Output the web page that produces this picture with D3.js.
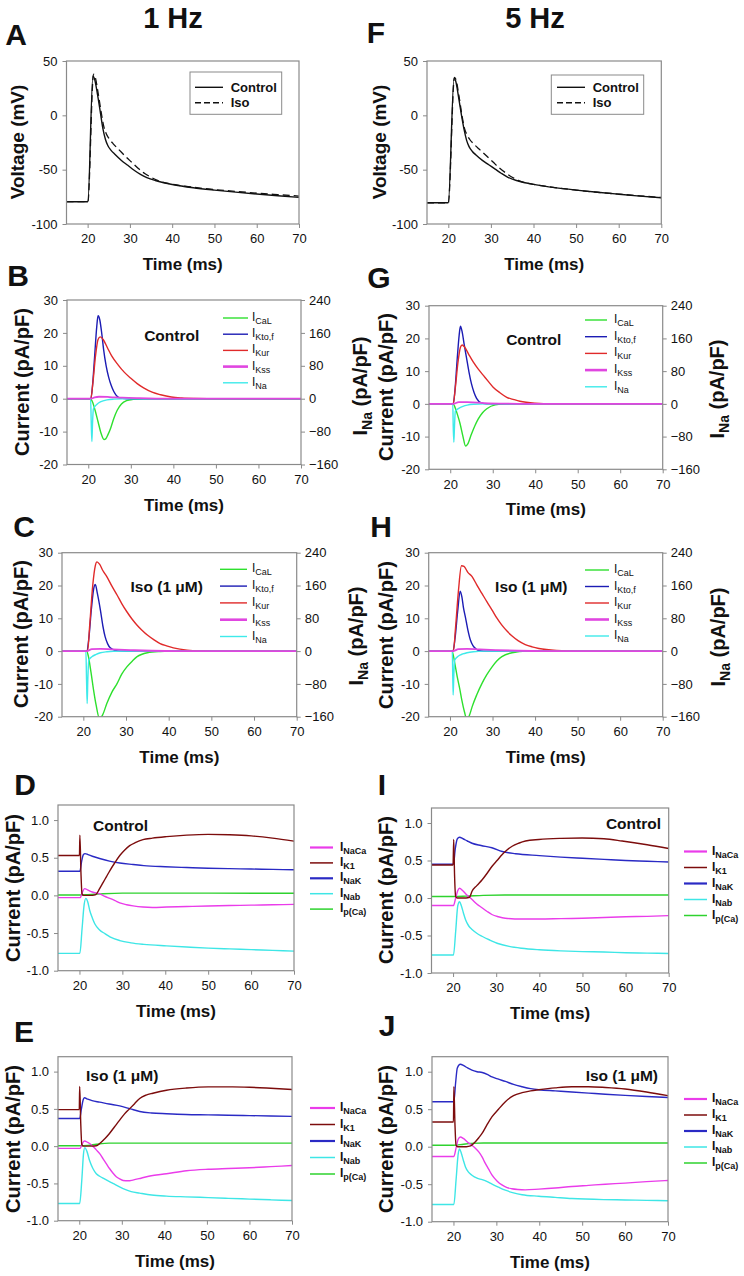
<!DOCTYPE html>
<html><head><meta charset="utf-8">
<script src="https://cdn.jsdelivr.net/npm/d3@7"></script>
<style>body{margin:0;background:#fff;} text{font-family:"Liberation Sans",Arial,sans-serif;fill:#111;}</style>
</head><body><svg id="fig" width="744" height="1276"></svg>
<script>
// ---------------- DATA ----------------
const timeTicks = [20,30,40,50,60,70];
const voltTicks = [-100,-50,0,50];
const curTicks = [-20,-10,0,10,20,30];
const naTicks = [-160,-80,0,80,160,240];
const bgTicks = [-1.0,-0.5,0.0,0.5,1.0];
const columnTitles = ["1 Hz","5 Hz"];
const fastNames = [["I","CaL"],["I","Kto,f"],["I","Kur"],["I","Kss"],["I","Na"]];
const bgNames = [["I","NaCa"],["I","K1"],["I","NaK"],["I","Nab"],["I","p(Ca)"]];
const vNames = ["Control","Iso"];

// Panel A (1 Hz voltage, mV)
const A_control = [[15,-79.5],[20.05,-79.5],[21.25,36],[21.6,34],[22.3,20],[23,3],[23.6,-12],[24.2,-22],[24.8,-28],[25.5,-32],[26.5,-36],[28,-41.5],[29.5,-46],[31,-50.5],[32.5,-54.3],[34,-57.3],[36,-60],[38,-62],[40,-63.6],[45,-66.6],[50,-68.8],[55,-70.7],[60,-72.4],[65,-74],[70,-75.5]];
const A_iso = [[15,-79.5],[20.05,-79.5],[21.4,38],[21.8,35],[22.5,20],[23.2,3],[23.8,-10],[24.4,-17],[25,-21],[26,-26],[27.5,-32],[29,-38],[30.5,-43.5],[32,-49],[33.5,-53.5],[35,-57],[37,-60.5],[40,-63.3],[45,-66.2],[50,-68.3],[55,-70],[60,-71.6],[65,-73],[70,-74.3]];
// Panel F (5 Hz voltage, mV)
const F_control = [[15,-80.5],[20.0,-80.5],[21.35,34],[21.7,32],[22.4,17],[23.1,0],[23.7,-13],[24.3,-23],[24.9,-29],[25.6,-33],[26.5,-36.5],[28,-41.5],[29.5,-45.5],[31,-49.5],[32.5,-53.5],[34,-57],[36,-60],[38,-62],[40,-63.5],[45,-66.5],[50,-68.8],[55,-70.8],[60,-72.6],[65,-74.3],[70,-75.8]];
const F_iso = [[15,-80.5],[20.0,-80.5],[21.45,35],[21.8,33],[22.5,18],[23.2,0],[23.8,-12],[24.4,-18],[25,-22],[26,-26.5],[27.5,-32],[29,-37.5],[30.5,-43],[32,-48.5],[33.5,-53],[35,-57],[36.5,-60],[38,-62],[40,-63.5],[45,-66.5],[50,-68.8],[55,-70.8],[60,-72.5],[65,-74.1],[70,-75.6]];

// Panel B (1 Hz control, pA/pF; INa on right axis)
const B_ICaL = [[15,0],[20.5,0],[21,-1],[21.6,-3.5],[22.3,-7],[23,-10.5],[23.7,-12.4],[24.1,-12.2],[24.6,-11],[25.3,-8.8],[26,-6],[26.8,-3.5],[27.8,-1.6],[29,-0.6],[30.5,-0.2],[33,0],[70,0]];
const B_IKto = [[15,0],[20.6,0],[21,4],[21.5,13],[22,22],[22.3,25.2],[22.7,24],[23.2,19.5],[23.6,15],[24.2,10],[24.8,6.5],[25.4,4],[26,2.2],[27.1,0.4],[28,0.1],[29,0],[70,0]];
const B_IKur = [[15,0],[20.6,0],[21.1,5],[21.7,13],[22.3,18],[22.8,18.8],[23.5,18],[24.5,15.5],[25.5,13],[27,10.3],[28.5,8],[30,6.2],[31.5,4.6],[33,3.3],[35,2],[37,1.2],[39.5,0.5],[42,0.2],[45,0.05],[48,0],[70,0]];
const B_IKss = [[15,0],[20.6,0],[21.5,0.4],[22.5,0.6],[25,0.5],[28,0.3],[32,0.15],[36,0.05],[40,0],[70,0]];
const B_INa = [[15,0],[20.55,0],[20.7,-60],[20.85,-104],[21.0,-60],[21.2,-25],[22,-14],[23,-7],[24.4,-3],[26,-1],[28,0],[70,0]];
// Panel C (1 Hz Iso)
const C_ICaL = [[15,0],[20.8,0],[21.2,-1.7],[21.8,-6.5],[22.4,-11.9],[23,-16.5],[23.8,-20.6],[24.5,-19.5],[25.5,-16],[26.7,-12.5],[27.9,-9.9],[29,-7],[30.2,-4.8],[31.5,-3],[32.6,-1.7],[35,-0.5],[38,-0.1],[40,0],[70,0]];
const C_IKto = [[15,0],[20.8,0],[21.3,4],[21.9,13],[22.5,19.5],[22.8,20.3],[23.3,17.5],[24,12.5],[24.6,7.5],[25.1,4.4],[25.7,2.2],[26.3,1],[27.5,0.2],[28.5,0],[70,0]];
const C_IKur = [[15,0],[21,0],[21.5,8],[22.2,20],[22.8,26],[23.2,27.2],[23.8,26.5],[24.6,24.5],[25.5,22.7],[26.7,19.8],[27.9,17.1],[29,14.5],[30.2,12],[31.4,9.8],[32.6,7.9],[33.8,6.3],[35,4.9],[36.5,3.5],[38,2.3],[39.5,1.6],[41.1,1],[44.3,0.3],[48,0.05],[50,0],[70,0]];
const C_IKss = [[15,0],[20.8,0],[22,0.6],[24,0.7],[27,0.5],[31,0.3],[36,0.1],[42,0],[70,0]];
const C_INa = [[15,0],[20.6,0],[20.75,-70],[20.9,-128],[21.05,-70],[21.3,-22],[22,-14],[23,-8],[24,-4],[25.5,-1.5],[27,-0.4],[30,0],[70,0]];
// Panel G (5 Hz control)
const G_ICaL = [[15,0],[20.7,0],[21.1,-1],[21.7,-3.3],[22.3,-6],[23,-10],[23.6,-12.9],[24.1,-12.3],[25,-9.2],[25.8,-6.7],[26.6,-4.6],[27.6,-2.7],[28.6,-1.5],[30.6,-0.3],[33,0],[70,0]];
const G_IKto = [[15,0],[20.7,0],[21.1,4],[21.6,13],[22.1,21],[22.4,23.7],[22.8,22],[23.3,18],[23.8,14.3],[24.4,9.8],[25,6.1],[25.6,3.5],[26.2,1.7],[27.3,0.3],[28.5,0],[70,0]];
const G_IKur = [[15,0],[20.7,0],[21.2,5],[21.8,12.5],[22.4,17.3],[22.8,18],[23.4,17.3],[24.4,15],[25.4,12.8],[26.6,10.6],[27.8,8.7],[29,6.8],[30.1,5.1],[31.7,3.4],[33.3,2],[35,1.3],[36.4,0.8],[40,0.2],[44,0],[70,0]];
const G_IKss = [[15,0],[20.7,0],[22,0.5],[24,0.5],[28,0.25],[33,0.08],[38,0],[70,0]];
const G_INa = [[15,0],[20.6,0],[20.7,-55],[20.85,-94],[21.0,-55],[21.2,-18],[22,-11],[23,-6],[24,-3],[25.5,-1],[28,0],[70,0]];
// Panel H (5 Hz Iso)
const H_ICaL = [[15,0],[20.5,0],[21.1,-3.5],[21.7,-7.8],[22.3,-11.5],[22.8,-15],[23.4,-18.5],[24,-21],[24.6,-19.5],[25.2,-17],[26.3,-13.3],[27.5,-9.9],[28.7,-7.1],[29.9,-4.8],[31,-3],[32.2,-1.7],[34.6,-0.5],[38,0],[70,0]];
const H_IKto = [[15,0],[20.7,0],[21.2,4],[21.8,12],[22.4,18.3],[22.8,16.5],[23.2,13],[23.6,10.5],[24.2,6.5],[24.8,3.4],[25.4,1.7],[26,0.8],[27,0.1],[28,0],[70,0]];
const H_IKur = [[15,0],[20.8,0],[21.3,7],[22,18.5],[22.7,26],[23.3,25.8],[24.2,24],[25.2,22.7],[26.3,20.2],[27.5,17.6],[28.7,15],[29.9,12.5],[31,10.1],[32.2,7.9],[33.4,6.1],[34.6,4.6],[36,3.2],[37.7,2],[39.3,1.3],[40.9,0.8],[45,0.2],[50,0],[70,0]];
const H_IKss = [[15,0],[20.7,0],[22,0.6],[24,0.7],[27,0.5],[31,0.3],[36,0.1],[42,0],[70,0]];
const H_INa = [[15,0],[20.55,0],[20.65,-60],[20.75,-107],[20.9,-60],[21.1,-22],[22,-12],[23,-7],[24,-4],[25.5,-1.5],[28,0],[70,0]];

// Panel D (1 Hz control, background currents)
const D_INaCa = [[15,-0.03],[20.2,-0.03],[20.6,0.03],[21.2,0.09],[22,0.07],[23,0.045],[24.7,0.02],[26,-0.015],[27.1,-0.04],[28.3,-0.07],[29.4,-0.1],[31,-0.125],[32.5,-0.14],[34.8,-0.155],[37,-0.16],[40.3,-0.155],[45,-0.148],[50,-0.14],[55,-0.135],[60,-0.13],[65,-0.125],[70,-0.12]];
const D_IK1 = [[15,0.53],[20.0,0.53],[20.1,0.8],[20.35,0.3],[20.6,0.02],[21,0],[22,0],[23,0],[23.8,0.01],[24.7,0.09],[25.5,0.17],[26.3,0.25],[27.1,0.33],[28.2,0.43],[29.4,0.53],[30.5,0.6],[31.7,0.66],[33,0.7],[34.8,0.74],[37,0.76],[40.3,0.78],[45,0.8],[50,0.81],[55,0.805],[60,0.79],[65,0.76],[70,0.72]];
const D_INaK = [[15,0.32],[20.1,0.32],[20.5,0.45],[20.9,0.54],[21.3,0.555],[22,0.54],[23,0.52],[24.7,0.49],[27,0.455],[29.4,0.43],[32.5,0.41],[35,0.395],[40,0.38],[45,0.37],[50,0.36],[55,0.355],[60,0.35],[65,0.345],[70,0.34]];
const D_INab = [[15,-0.77],[20.1,-0.77],[20.6,-0.45],[21.1,-0.12],[21.5,-0.04],[21.9,-0.08],[22.4,-0.2],[23,-0.3],[23.6,-0.38],[24.7,-0.46],[26,-0.51],[27.1,-0.55],[29.4,-0.6],[32,-0.63],[35,-0.65],[40.3,-0.67],[45,-0.685],[50,-0.7],[55,-0.71],[60,-0.72],[65,-0.73],[70,-0.74]];
const D_IpCa = [[15,0.005],[20,0.005],[22,0.01],[25,0.02],[30,0.03],[40,0.03],[50,0.03],[70,0.028]];
// Panel E (1 Hz Iso)
const E_INaCa = [[15,-0.03],[20.2,-0.03],[20.6,0.02],[21.2,0.07],[22,0.05],[23,0.01],[24,-0.05],[24.8,-0.1],[25.6,-0.17],[26.3,-0.23],[27.1,-0.3],[27.9,-0.36],[28.7,-0.41],[29.5,-0.44],[30.3,-0.46],[31.5,-0.465],[32.6,-0.455],[34.5,-0.43],[36.6,-0.40],[40.5,-0.37],[45.2,-0.33],[50.3,-0.31],[55,-0.3],[60,-0.29],[65,-0.275],[70,-0.26]];
const E_IK1 = [[15,0.49],[20.0,0.49],[20.1,0.8],[20.35,0.3],[20.6,0.02],[21,0],[23,0],[24,0.005],[24.8,0.035],[26,0.1],[27.1,0.17],[28.3,0.26],[29.5,0.35],[30.6,0.43],[31.8,0.5],[33,0.57],[34.2,0.64],[35.7,0.685],[37.3,0.71],[40.5,0.75],[45.2,0.78],[50.3,0.795],[56,0.795],[60,0.79],[64,0.78],[70,0.76]];
const E_INaK = [[15,0.37],[20.1,0.37],[20.5,0.5],[20.9,0.62],[21.2,0.65],[22,0.63],[23,0.61],[24.8,0.59],[27,0.565],[29.5,0.54],[32,0.5],[34.2,0.465],[37,0.445],[40.5,0.435],[45,0.425],[50.3,0.42],[55,0.415],[60,0.41],[65,0.405],[70,0.40]];
const E_INab = [[15,-0.77],[20.1,-0.77],[20.6,-0.45],[21.0,-0.1],[21.3,-0.02],[21.8,-0.07],[22.4,-0.19],[23.2,-0.3],[24,-0.37],[25,-0.41],[25.6,-0.43],[27.9,-0.5],[30.3,-0.57],[32.2,-0.61],[34.2,-0.63],[37,-0.655],[40.5,-0.67],[45,-0.68],[50.3,-0.69],[55,-0.7],[60,-0.71],[65,-0.72],[70,-0.73]];
const E_IpCa = [[15,0.005],[20,0.005],[22,0.01],[24,0.025],[27,0.04],[35,0.04],[50,0.04],[70,0.04]];
// Panel I (5 Hz control)
const I_INaCa = [[15,-0.1],[20.1,-0.1],[20.6,0.0],[21.1,0.1],[21.5,0.13],[22.2,0.1],[23.2,0.04],[24.4,-0.02],[25.5,-0.08],[26.7,-0.13],[27.9,-0.18],[29,-0.22],[30.5,-0.25],[32.1,-0.27],[35.9,-0.28],[40,-0.28],[45,-0.275],[50,-0.27],[55,-0.26],[60,-0.25],[65,-0.245],[70,-0.235]];
const I_IK1 = [[15,0.44],[20.0,0.44],[20.15,0.78],[20.35,0.3],[20.6,0.02],[21,0],[23,0],[23.8,0.01],[24.4,0.09],[25.5,0.165],[26.7,0.24],[27.9,0.33],[29,0.42],[30.2,0.5],[31.4,0.58],[32.5,0.64],[33.7,0.69],[35.2,0.73],[36.8,0.76],[39.9,0.78],[45,0.795],[49.9,0.8],[55,0.79],[59.2,0.76],[65,0.71],[70,0.66]];
const I_INaK = [[15,0.45],[20.1,0.45],[20.5,0.65],[21,0.79],[21.5,0.81],[22.3,0.79],[23.3,0.76],[24.4,0.73],[26.5,0.7],[29,0.67],[31.4,0.62],[34.5,0.59],[40,0.565],[45,0.545],[50,0.53],[55,0.515],[60,0.5],[65,0.49],[70,0.48]];
const I_INab = [[15,-0.76],[20.1,-0.76],[20.6,-0.45],[21.1,-0.1],[21.5,-0.05],[21.9,-0.1],[22.4,-0.2],[22.9,-0.29],[23.6,-0.37],[24.4,-0.42],[25.5,-0.47],[26.7,-0.51],[28.5,-0.56],[30.6,-0.61],[33,-0.645],[35.9,-0.67],[40,-0.69],[45,-0.705],[50,-0.715],[55,-0.72],[60,-0.73],[65,-0.735],[70,-0.74]];
const I_IpCa = [[15,0.02],[20,0.02],[23,0.025],[27,0.035],[32,0.04],[45,0.04],[70,0.04]];
// Panel J (5 Hz Iso)
const J_INaCa = [[15,-0.13],[20.1,-0.13],[20.6,-0.02],[21.1,0.1],[21.6,0.13],[22.3,0.11],[23.3,0.06],[24.3,0.02],[25.1,-0.02],[25.9,-0.07],[26.7,-0.14],[27.4,-0.22],[28.2,-0.3],[29,-0.38],[30.2,-0.46],[31.3,-0.51],[32.5,-0.545],[33.6,-0.56],[35,-0.57],[36.7,-0.575],[39.9,-0.565],[43.7,-0.55],[47.6,-0.53],[51.5,-0.515],[55.4,-0.5],[60,-0.485],[65,-0.465],[70,-0.45]];
const J_IK1 = [[15,0.33],[20.0,0.33],[20.1,0.8],[20.35,0.3],[20.6,0.02],[21,0],[23,0],[24,0.01],[25,0.06],[25.9,0.12],[26.7,0.18],[27.8,0.29],[29,0.4],[30.5,0.5],[32.1,0.6],[34,0.68],[36,0.72],[38,0.745],[39.9,0.76],[43.7,0.785],[47.6,0.8],[51.5,0.8],[55.4,0.79],[60,0.77],[65,0.73],[70,0.68]];
const J_INaK = [[15,0.6],[20.1,0.6],[20.5,0.85],[20.9,1.05],[21.6,1.1],[22.4,1.08],[23.3,1.05],[24.3,1.02],[25.5,1.0],[26.7,0.99],[28,0.96],[29,0.93],[30.5,0.9],[32.1,0.87],[34,0.83],[36,0.8],[38,0.775],[39.9,0.76],[43.7,0.745],[47.6,0.73],[51.5,0.715],[55.4,0.70],[60,0.685],[65,0.67],[70,0.655]];
const J_INab = [[15,-0.77],[20.1,-0.77],[20.6,-0.45],[21.1,-0.1],[21.4,-0.03],[21.8,-0.08],[22.3,-0.18],[22.8,-0.27],[23.5,-0.34],[24.3,-0.38],[25.5,-0.42],[26.7,-0.44],[28,-0.47],[29,-0.5],[30.5,-0.54],[32.1,-0.58],[34,-0.615],[36,-0.64],[39.9,-0.66],[43.7,-0.675],[47.6,-0.69],[55,-0.705],[60,-0.71],[65,-0.715],[70,-0.72]];
const J_IpCa = [[15,0.02],[20,0.02],[22,0.03],[24,0.045],[27,0.05],[40,0.05],[70,0.05]];

// ---------------- STYLE / LAYOUT ----------------
const FRAME = "#8a8a8a";
const fastColors = ["#2ee02e","#1c1cb4","#e02a2a","#e046e0","#3eeaea"];
const bgColors = ["#ea3cea","#7c0c0c","#2a2ac4","#3ee6e6","#2ed22e"];
const xDom = [15,70];

const svg = d3.select("#fig");
const lineGen = (x,y) => d3.line().x(d=>x(d[0])).y(d=>y(d[1])).curve(d3.curveMonotoneX);
let clipN = 0;

function styleAxis(g){
  g.select(".domain").remove();
  g.selectAll(".tick line").attr("stroke",FRAME);
  g.selectAll(".tick text").attr("font-size",13).attr("fill","#111")
   .style("font-family",'"Liberation Sans",Arial,sans-serif');
}

function frameAndAxes(p, yDom, yTicks, fmt, rightDom){
  const x = d3.scaleLinear(xDom,[p.L,p.R]);
  const y = d3.scaleLinear(yDom,[p.B,p.T]);
  const g = svg.append("g");
  g.append("g").attr("transform",`translate(0,${p.B})`)
    .call(d3.axisBottom(x).tickValues(timeTicks).tickSize(4).tickPadding(6).tickSizeOuter(0))
    .call(styleAxis);
  g.append("g").attr("transform",`translate(${p.L},0)`)
    .call(d3.axisLeft(y).tickValues(yTicks).tickFormat(fmt).tickSize(4).tickPadding(5).tickSizeOuter(0))
    .call(styleAxis);
  let yr = null;
  if(rightDom){
    yr = d3.scaleLinear(rightDom,[p.B,p.T]);
    g.append("g").attr("transform",`translate(${p.R},0)`)
      .call(d3.axisRight(yr).tickValues(naTicks).tickSize(4).tickPadding(4).tickSizeOuter(0))
      .call(styleAxis);
  }
  const id = "clip"+(clipN++);
  svg.append("clipPath").attr("id",id).append("rect")
    .attr("x",p.L).attr("y",p.T).attr("width",p.R-p.L).attr("height",p.B-p.T);
  const plot = svg.append("g").attr("clip-path",`url(#${id})`);
  svg.append("text").attr("x",(p.L+p.R)/2).attr("y",p.B+46).attr("text-anchor","middle")
    .attr("font-size",17).attr("font-weight","bold").text("Time (ms)");
  svg.append("text").attr("x",p.letter[0]).attr("y",p.letter[1]+11).attr("text-anchor","middle")
    .attr("font-size",30).attr("font-weight","bold").text(p.id);
  return {x,y,yr,plot,g};
}

function drawFrame(p){
  svg.append("rect").attr("x",p.L).attr("y",p.T).attr("width",p.R-p.L).attr("height",p.B-p.T)
    .attr("fill","none").attr("stroke",FRAME).attr("stroke-width",1.2);
}

function yTitle(cx,cy,size,parts){
  const t = svg.append("text").attr("transform",`translate(${cx},${cy}) rotate(-90)`)
    .attr("text-anchor","middle").attr("dy","0.36em").attr("font-size",size).attr("font-weight","bold");
  parts(t);
}

function subLabel(sel, x, y, main, sub, mainSize, subSize, bold){
  const t = sel.append("text").attr("x",x).attr("y",y).attr("font-size",mainSize)
    .attr("font-weight",bold?"bold":"normal");
  t.append("tspan").text(main);
  t.append("tspan").attr("dy",3).attr("font-size",subSize).text(sub);
}

// ---------- Voltage panels ----------
function voltagePanel(p){
  const {x,y,plot} = frameAndAxes(p,[-100,50],voltTicks,d=>String(d),null);
  const lg = lineGen(x,y);
  plot.append("path").datum(p.ctrl).attr("d",lg).attr("fill","none").attr("stroke","#111").attr("stroke-width",1.4);
  plot.append("path").datum(p.iso).attr("d",lg).attr("fill","none").attr("stroke","#111").attr("stroke-width",1.3).attr("stroke-dasharray","7,4");
  drawFrame(p);
  const L = p.legend;
  svg.append("rect").attr("x",L.x0).attr("y",L.y0).attr("width",L.x1-L.x0).attr("height",L.y1-L.y0)
    .attr("fill","#fff").attr("stroke",FRAME).attr("stroke-width",1);
  vNames.forEach((n,i)=>{
    svg.append("line").attr("x1",L.lx0).attr("x2",L.lx1).attr("y1",L.rows[i]).attr("y2",L.rows[i])
      .attr("stroke","#111").attr("stroke-width",1.4).attr("stroke-dasharray",i?"6,3":null);
    svg.append("text").attr("x",L.tx).attr("y",L.rows[i]+4.5).attr("font-size",13).attr("font-weight","bold").text(n);
  });
  yTitle(p.ylab[0],p.ylab[1],19,t=>t.text("Voltage (mV)"));
}

// ---------- Fast current panels ----------
function fastPanel(p){
  const {x,y,yr,plot} = frameAndAxes(p,[-20,30],curTicks,d=>String(d),[-160,240]);
  const lg = lineGen(x,y), lr = lineGen(x,yr);
  const s = p.series; // [ICaL, IKto, IKur, IKss, INa]
  [0,1,2,4,3].forEach(i=>{
    plot.append("path").datum(s[i]).attr("d", i===4?lr:lg).attr("fill","none")
      .attr("stroke",fastColors[i]).attr("stroke-width", i===3?1.8:1.4);
  });
  drawFrame(p);
  const L = p.legend;
  fastNames.forEach((n,i)=>{
    const yy = L.y0 + i*L.dy;
    svg.append("line").attr("x1",L.lx0).attr("x2",L.lx1).attr("y1",yy).attr("y2",yy)
      .attr("stroke",fastColors[i]).attr("stroke-width", i===3?2.6:1.4);
    subLabel(svg,L.tx,yy+3,n[0],n[1],12,9,false);
  });
  svg.append("text").attr("x",p.note.x).attr("y",p.note.y+5.5).attr("text-anchor",p.note.anchor)
    .attr("font-size",15.5).attr("font-weight","bold").text(p.note.text);
  yTitle(p.ylab[0],p.ylab[1],20,t=>t.text("Current (pA/pF)"));
  yTitle(p.rlab[0],p.rlab[1],20,t=>{
    t.append("tspan").text("I");
    t.append("tspan").attr("dy",5).attr("font-size",14).text("Na");
    t.append("tspan").attr("dy",-5).text(" (pA/pF)");
  });
}

// ---------- Background current panels ----------
function bgPanel(p){
  const {x,y,plot} = frameAndAxes(p,[-1,1.2],bgTicks,d=>d.toFixed(1),null);
  const lg = lineGen(x,y);
  const s = p.series; // [INaCa, IK1, INaK, INab, IpCa]
  [4,3,2,0,1].forEach(i=>{
    plot.append("path").datum(s[i]).attr("d",lg).attr("fill","none")
      .attr("stroke",bgColors[i]).attr("stroke-width",1.4);
  });
  drawFrame(p);
  const L = p.legend;
  bgNames.forEach((n,i)=>{
    const yy = L.y0 + i*L.dy;
    svg.append("line").attr("x1",L.lx0).attr("x2",L.lx1).attr("y1",yy).attr("y2",yy)
      .attr("stroke",bgColors[i]).attr("stroke-width",(i===0||i===2)?2.2:1.5);
    subLabel(svg,L.tx,yy+3,n[0],n[1],12,9,true);
  });
  svg.append("text").attr("x",p.note.x).attr("y",p.note.y+5.5).attr("text-anchor",p.note.anchor)
    .attr("font-size",15.5).attr("font-weight","bold").text(p.note.text);
  yTitle(p.ylab[0],p.ylab[1],20,t=>t.text("Current (pA/pF)"));
}

svg.append("text").attr("x",173).attr("y",28).attr("text-anchor","middle").attr("font-size",29).attr("font-weight","bold").text(columnTitles[0]);
svg.append("text").attr("x",535).attr("y",28).attr("text-anchor","middle").attr("font-size",29).attr("font-weight","bold").text(columnTitles[1]);

voltagePanel({id:"A",L:66.5,T:61,R:299,B:224,ctrl:A_control,iso:A_iso,
  legend:{x0:190,y0:72,x1:281.7,y1:114.3,lx0:195,lx1:223,tx:230.7,rows:[87.3,102.7]},ylab:[17,142],letter:[16,34]});
voltagePanel({id:"F",L:427,T:61,R:661.3,B:224,ctrl:F_control,iso:F_iso,
  legend:{x0:551.3,y0:75,x1:643.7,y1:114.3,lx0:557,lx1:585,tx:592.7,rows:[87.3,102.7]},ylab:[379,142],letter:[376,32]});

fastPanel({id:"B",L:67,T:300,R:301,B:464.5,series:[B_ICaL,B_IKto,B_IKur,B_IKss,B_INa],
  legend:{lx0:223,lx1:248,tx:252,y0:318,dy:16.2},note:{text:"Control",x:171.7,y:335,anchor:"middle"},
  ylab:[22,382],rlab:[360,386],letter:[18,275]});
fastPanel({id:"C",L:62,T:552.7,R:296.7,B:716.7,series:[C_ICaL,C_IKto,C_IKur,C_IKss,C_INa],
  legend:{lx0:220,lx1:247,tx:252,y0:569.3,dy:16.8},note:{text:"Iso (1 \u03bcM)",x:166.7,y:586,anchor:"middle"},
  ylab:[21,634],rlab:[356,636],letter:[24,526]});
fastPanel({id:"G",L:429,T:305.7,R:662.7,B:469.3,series:[G_ICaL,G_IKto,G_IKur,G_IKss,G_INa],
  legend:{lx0:585,lx1:607,tx:614,y0:320,dy:16.7},note:{text:"Control",x:533.7,y:339,anchor:"middle"},
  ylab:[386,387],rlab:[717,389],letter:[379,277]});
fastPanel({id:"H",L:428.7,T:552.7,R:662.7,B:716.7,series:[H_ICaL,H_IKto,H_IKur,H_IKss,H_INa],
  legend:{lx0:585,lx1:609,tx:614,y0:570,dy:16.5},note:{text:"Iso (1 \u03bcM)",x:531.3,y:586,anchor:"middle"},
  ylab:[386,635],rlab:[718,637],letter:[381,526]});

bgPanel({id:"D",L:58,T:805,R:294,B:970.7,series:[D_INaCa,D_IK1,D_INaK,D_INab,D_IpCa],
  legend:{lx0:310,lx1:333,tx:340,y0:847.5,dy:15.4},note:{text:"Control",x:93,y:825.7,anchor:"start"},
  ylab:[13,888],letter:[25,784]});
bgPanel({id:"E",L:58,T:1056.7,R:292,B:1220.7,series:[E_INaCa,E_IK1,E_INaK,E_INab,E_IpCa],
  legend:{lx0:310,lx1:335,tx:340,y0:1108,dy:16.5},note:{text:"Iso (1 \u03bcM)",x:86,y:1075,anchor:"start"},
  ylab:[13,1139],letter:[24,1031]});
bgPanel({id:"I",L:431.5,T:808,R:668.7,B:973,series:[I_INaCa,I_IK1,I_INaK,I_INab,I_IpCa],
  legend:{lx0:684,lx1:707,tx:712,y0:851.5,dy:16},note:{text:"Control",x:661,y:823,anchor:"end"},
  ylab:[386,890],letter:[382,784]});
bgPanel({id:"J",L:432,T:1056.7,R:668,B:1221.7,series:[J_INaCa,J_IK1,J_INaK,J_INab,J_IpCa],
  legend:{lx0:684,lx1:707,tx:712,y0:1099,dy:16},note:{text:"Iso (1 \u03bcM)",x:658,y:1075,anchor:"end"},
  ylab:[386,1139],letter:[387,1025]});
</script></body></html>
